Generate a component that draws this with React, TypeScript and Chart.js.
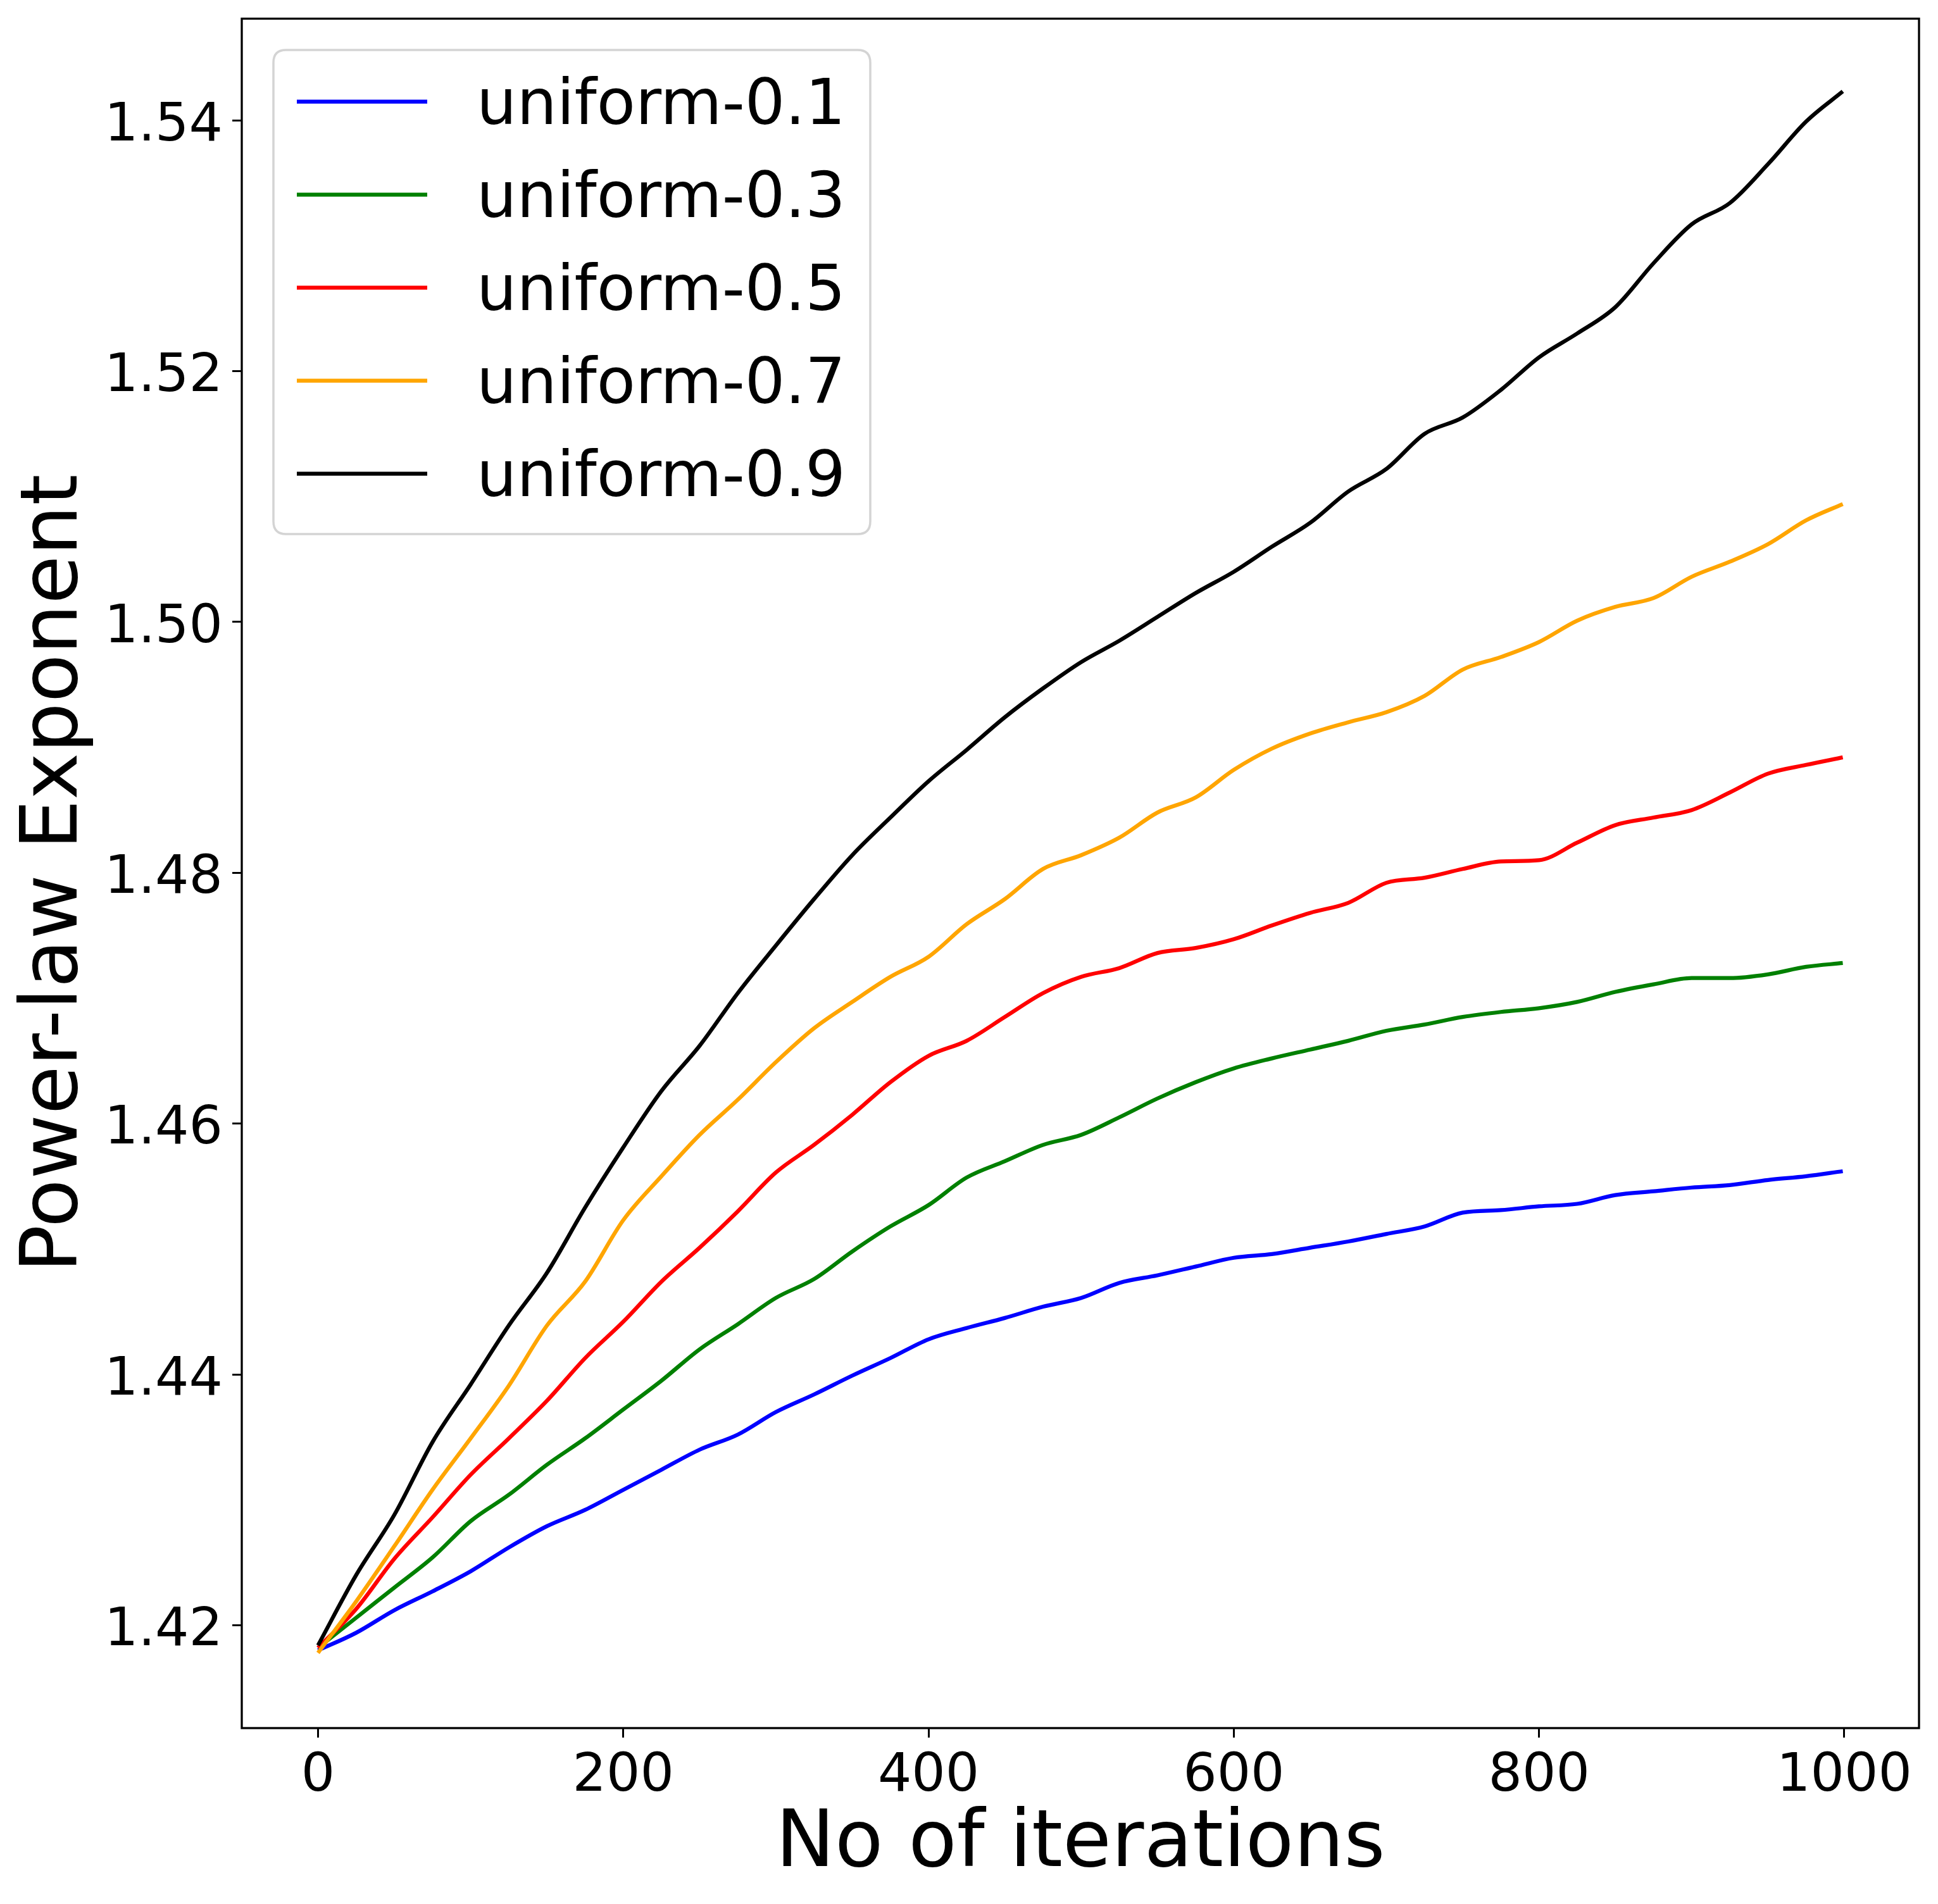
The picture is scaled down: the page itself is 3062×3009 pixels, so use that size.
import React, { useEffect, useRef } from "react";
import { Chart, registerables } from "chart.js";

Chart.register(...registerables);

// ---------- data ----------
const iterations = [
  0, 25, 50, 75, 100, 125, 150, 175, 200, 225, 250, 275, 300, 325, 350, 375, 400, 425, 450, 475, 500,
  525, 550, 575, 600, 625, 650, 675, 700, 725, 750, 775, 800, 825, 850, 875, 900, 925, 950, 975, 999,
];

const seriesLabels = ["uniform-0.1", "uniform-0.3", "uniform-0.5", "uniform-0.7", "uniform-0.9"];
const seriesColors = ["#0000ff", "#008000", "#ff0000", "#ffa500", "#000000"];

const uniform01 = [
  1.418, 1.4194, 1.4212, 1.4227, 1.4243, 1.4262, 1.4279, 1.4292, 1.4308, 1.4324, 1.434, 1.4352, 1.437,
  1.4384, 1.4399, 1.4413, 1.4428, 1.4437, 1.4445, 1.4454, 1.4461, 1.4473, 1.4479, 1.4486, 1.4493, 1.4496,
  1.4501, 1.4506, 1.4512, 1.4518, 1.4529, 1.4531, 1.4534, 1.4536, 1.4543, 1.4546, 1.4549, 1.4551, 1.4555,
  1.4558, 1.4562,
];
const uniform03 = [
  1.4182, 1.4206, 1.423, 1.4254, 1.4283, 1.4304, 1.4328, 1.4349, 1.4372, 1.4395, 1.442, 1.444, 1.4461,
  1.4476, 1.4498, 1.4518, 1.4535, 1.4557, 1.457, 1.4583, 1.4591, 1.4605, 1.462, 1.4633, 1.4644, 1.4652,
  1.4659, 1.4666, 1.4674, 1.4679, 1.4685, 1.4689, 1.4692, 1.4697, 1.4705, 1.4711, 1.4716, 1.4716, 1.4719,
  1.4725, 1.4728,
];
const uniform05 = [
  1.4182, 1.4213, 1.4253, 1.4286, 1.432, 1.4349, 1.4379, 1.4413, 1.4442, 1.4474, 1.4501, 1.453, 1.4561,
  1.4583, 1.4607, 1.4633, 1.4654, 1.4666, 1.4685, 1.4704, 1.4717, 1.4724, 1.4736, 1.474, 1.4747, 1.4758,
  1.4768, 1.4776, 1.4792, 1.4796, 1.4803, 1.4809, 1.481, 1.4824, 1.4838, 1.4844, 1.485, 1.4864, 1.4879,
  1.4886, 1.4892,
];
const uniform07 = [
  1.4178, 1.4219, 1.4263, 1.4308, 1.4349, 1.4391, 1.4439, 1.4474, 1.4523, 1.4558, 1.4591, 1.4619, 1.4649,
  1.4676, 1.4697, 1.4717, 1.4733, 1.4759, 1.4779, 1.4803, 1.4814, 1.4828, 1.4848, 1.486, 1.4882, 1.4899,
  1.4911, 1.492, 1.4928, 1.4941, 1.4962, 1.4972, 1.4984, 1.5001, 1.5012, 1.5019, 1.5036, 1.5048, 1.5062,
  1.5081, 1.5094,
];
const uniform09 = [
  1.4184, 1.424, 1.4288, 1.4346, 1.4392, 1.4439, 1.4481, 1.4533, 1.4581, 1.4626, 1.4662, 1.4704, 1.4742,
  1.4779, 1.4814, 1.4844, 1.4873, 1.4898, 1.4924, 1.4947, 1.4968, 1.4985, 1.5004, 1.5023, 1.504, 1.506,
  1.5079, 1.5104, 1.5122, 1.515, 1.5163, 1.5185, 1.5211, 1.523, 1.5251, 1.5286, 1.5317, 1.5334, 1.5365,
  1.5399, 1.5423,
];

const seriesValues = [uniform01, uniform03, uniform05, uniform07, uniform09];

const xTickValues = [0, 200, 400, 600, 800, 1000];
const yTickValues = [1.42, 1.44, 1.46, 1.48, 1.5, 1.52, 1.54];

const xLabel = "No of iterations";
const yLabel = "Power-law Exponent";

// ---------- layout ----------
const W = 3062;
const H = 3009;
const AREA = { left: 382, top: 29.5, right: 3032, bottom: 2731 };
const FONT = "'DejaVu Sans', 'Liberation Sans', sans-serif";

const framePlugin = {
  id: "mplFrame",
  afterDatasetsDraw(chart: any) {
    const { ctx, chartArea } = chart;
    ctx.save();
    ctx.strokeStyle = "#000";
    ctx.lineWidth = 3.3;
    ctx.strokeRect(chartArea.left, chartArea.top, chartArea.right - chartArea.left, chartArea.bottom - chartArea.top);
    ctx.restore();
  },
};

const legendPlugin = {
  id: "mplLegend",
  afterDraw(chart: any) {
    const { ctx, chartArea } = chart;
    const bx = chartArea.left + 50;
    const by = chartArea.top + 49.5;
    const bw = 943;
    const bh = 765;
    const r = 20;
    ctx.save();
    ctx.beginPath();
    ctx.moveTo(bx + r, by);
    ctx.lineTo(bx + bw - r, by);
    ctx.quadraticCurveTo(bx + bw, by, bx + bw, by + r);
    ctx.lineTo(bx + bw, by + bh - r);
    ctx.quadraticCurveTo(bx + bw, by + bh, bx + bw - r, by + bh);
    ctx.lineTo(bx + r, by + bh);
    ctx.quadraticCurveTo(bx, by + bh, bx, by + bh - r);
    ctx.lineTo(bx, by + r);
    ctx.quadraticCurveTo(bx, by, bx + r, by);
    ctx.closePath();
    ctx.fillStyle = "rgba(255,255,255,0.8)";
    ctx.fill();
    ctx.strokeStyle = "#d4d4d4";
    ctx.lineWidth = 3.5;
    ctx.stroke();

    ctx.font = `100px ${FONT}`;
    ctx.textAlign = "left";
    ctx.textBaseline = "alphabetic";
    chart.data.datasets.forEach((ds: any, i: number) => {
      const cy = by + 81.5 + i * 147;
      ctx.beginPath();
      ctx.moveTo(bx + 37, cy);
      ctx.lineTo(bx + 243, cy);
      ctx.strokeStyle = ds.borderColor;
      ctx.lineWidth = 6.25;
      ctx.stroke();
      ctx.fillStyle = "#000";
      ctx.fillText(ds.label, bx + 321, cy + 35.5);
    });
    ctx.restore();
  },
};

export default function App() {
  const canvasRef = useRef<HTMLCanvasElement | null>(null);

  useEffect(() => {
    const canvas = canvasRef.current;
    if (!canvas) return;
    const datasets = seriesLabels.map((label, i) => ({
      label,
      data: iterations.map((x, j) => ({ x, y: seriesValues[i][j] })),
      borderColor: seriesColors[i],
      backgroundColor: seriesColors[i],
      borderWidth: 6.25,
      pointRadius: 0,
      cubicInterpolationMode: "monotone" as const,
      fill: false,
      borderJoinStyle: "round" as const,
      order: seriesLabels.length - 1 - i,
    }));

    const chart = new Chart(canvas, {
      type: "line",
      data: { datasets },
      options: {
        responsive: false,
        animation: false,
        devicePixelRatio: 1,
        layout: { padding: { left: 0, top: AREA.top, right: W - AREA.right, bottom: 0 } },
        plugins: { legend: { display: false }, tooltip: { enabled: false }, title: { display: false } },
        scales: {
          x: {
            type: "linear",
            min: -49.95,
            max: 1048.95,
            afterBuildTicks: (s: any) => {
              s.ticks = xTickValues.map((v) => ({ value: v }));
            },
            afterFit: (s: any) => {
              s.height = H - AREA.bottom;
              s.paddingLeft = 0;
              s.paddingRight = 0;
            },
            ticks: {
              autoSkip: false,
              maxRotation: 0,
              color: "#000",
              padding: 12,
              font: { family: FONT, size: 84 },
              callback: (v: any) => String(v),
            },
            grid: {
              drawOnChartArea: false,
              drawTicks: true,
              tickLength: 15,
              tickWidth: 3,
              tickColor: "#000",
              color: "#000",
            },
            border: { display: false },
            title: {
              display: true,
              text: xLabel,
              color: "#000",
              font: { family: FONT, size: 125, lineHeight: 1 },
              padding: { top: 0, bottom: 30 },
            },
          },
          y: {
            type: "linear",
            min: 1.4118,
            max: 1.5481,
            afterBuildTicks: (s: any) => {
              s.ticks = yTickValues.map((v) => ({ value: v }));
            },
            afterFit: (s: any) => {
              s.width = AREA.left;
              s.paddingTop = 0;
              s.paddingBottom = 0;
            },
            ticks: {
              autoSkip: false,
              color: "#000",
              padding: 15,
              labelOffset: 10,
              font: { family: FONT, size: 84 },
              callback: (v: any) => Number(v).toFixed(2),
            },
            grid: {
              drawOnChartArea: false,
              drawTicks: true,
              tickLength: 15,
              tickWidth: 3,
              tickColor: "#000",
              color: "#000",
            },
            border: { display: false },
            title: {
              display: true,
              text: yLabel,
              color: "#000",
              font: { family: FONT, size: 125, lineHeight: 1 },
              padding: { top: 26, bottom: 0 },
            },
          },
        },
      },
      plugins: [framePlugin, legendPlugin],
    });

    return () => chart.destroy();
  }, []);

  return (
    <div style={{ position: "absolute", left: 0, top: 0, width: W, height: H, background: "#fff" }}>
      <canvas ref={canvasRef} width={W} height={H} style={{ display: "block", width: W, height: H }} />
    </div>
  );
}
